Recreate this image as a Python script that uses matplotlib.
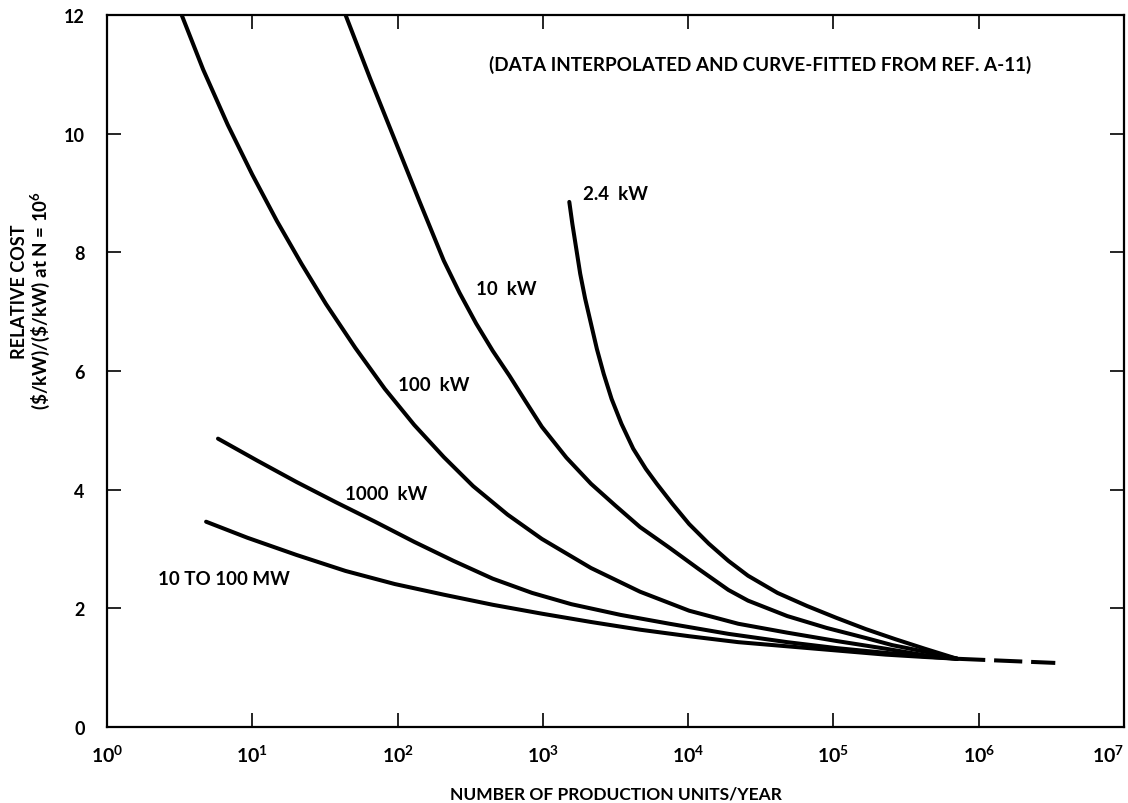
import math
import matplotlib
matplotlib.use("Agg")
import matplotlib.pyplot as plt
import numpy as np
from matplotlib.ticker import FixedLocator, FuncFormatter, NullLocator

plt.rcParams["font.family"] = ["Lato", "DejaVu Sans"]
plt.rcParams["font.weight"] = "bold"
plt.rcParams["mathtext.fontset"] = "custom"
plt.rcParams["mathtext.rm"] = "Lato:bold"
plt.rcParams["mathtext.it"] = "Lato:bold"
plt.rcParams["mathtext.bf"] = "Lato:bold"

# log10 of production rate N (units/year) and relative cost, per plant size
log_n_2_4kw = [3.182, 3.203, 3.230, 3.257, 3.291, 3.331, 3.372, 3.419, 3.473,
               3.541, 3.622, 3.709, 3.784, 3.892, 4.007, 4.142, 4.277, 4.412,
               4.615, 4.818, 5.020, 5.223, 5.426, 5.628, 5.851]
c_2_4kw = [8.85, 8.48, 8.06, 7.64, 7.22, 6.80, 6.37, 5.95, 5.53, 5.11, 4.69,
           4.35, 4.10, 3.76, 3.42, 3.09, 2.80, 2.55, 2.26, 2.04, 1.84, 1.65,
           1.48, 1.32, 1.15]

log_n_10kw = [1.642, 1.811, 1.980, 2.149, 2.318, 2.426, 2.541, 2.655, 2.770,
              2.878, 2.993, 3.162, 3.331, 3.500, 3.669, 3.872, 4.074, 4.277,
              4.412, 4.682, 4.953, 5.223, 5.405, 5.628, 5.851]
c_10kw = [12.0, 10.93, 9.90, 8.87, 7.86, 7.32, 6.80, 6.34, 5.92, 5.50, 5.06,
          4.54, 4.10, 3.73, 3.37, 3.02, 2.66, 2.31, 2.13, 1.87, 1.67, 1.50,
          1.38, 1.27, 1.15]

log_n_100kw = [0.514, 0.662, 0.831, 1.000, 1.169, 1.338, 1.507, 1.709, 1.912,
               2.115, 2.318, 2.520, 2.757, 2.993, 3.331, 3.669, 4.007, 4.345,
               4.682, 5.020, 5.358, 5.628, 5.851]
c_100kw = [12.0, 11.08, 10.15, 9.31, 8.53, 7.81, 7.13, 6.39, 5.70, 5.09, 4.55,
           4.06, 3.58, 3.17, 2.68, 2.28, 1.96, 1.74, 1.59, 1.45, 1.32, 1.21,
           1.15]

log_n_1000kw = [0.764, 1.034, 1.304, 1.574, 1.845, 2.115, 2.385, 2.655, 2.926,
                3.196, 3.534, 3.872, 4.277, 4.682, 5.020, 5.358, 5.628, 5.851]
c_1000kw = [4.86, 4.49, 4.13, 3.79, 3.46, 3.12, 2.80, 2.50, 2.26, 2.07, 1.89,
            1.74, 1.57, 1.43, 1.33, 1.25, 1.19, 1.15]

log_n_mw = [0.682, 0.966, 1.304, 1.642, 1.980, 2.318, 2.655, 2.993, 3.331,
            3.669, 4.007, 4.345, 4.682, 5.020, 5.358, 5.628, 5.851]
c_mw = [3.46, 3.19, 2.90, 2.63, 2.41, 2.23, 2.06, 1.91, 1.77, 1.64, 1.53,
        1.43, 1.36, 1.29, 1.22, 1.18, 1.15]

# Common extrapolated tail beyond N = 10^6
log_n_tail = [5.851, 6.527]
c_tail = [1.15, 1.08]

curve_names = ["2.4  kW", "10  kW", "100  kW", "1000  kW", "10 TO 100 MW"]

x_ticks = [1e0, 1e1, 1e2, 1e3, 1e4, 1e5, 1e6, 1e7]
y_ticks = [0, 2, 4, 6, 8, 10, 12]

W, H = 1128, 804
fig = plt.figure(figsize=(W / 100, H / 100), dpi=100)
ax = fig.add_axes([107 / W, (H - 728) / H, (1124 - 107) / W, (728 - 16) / H])

curves = [(log_n_2_4kw, c_2_4kw), (log_n_10kw, c_10kw),
          (log_n_100kw, c_100kw), (log_n_1000kw, c_1000kw),
          (log_n_mw, c_mw)]
for ln, c in curves:
    ax.plot(10 ** np.array(ln), c, color="black", lw=2.9,
            solid_capstyle="round", solid_joinstyle="round")
ax.plot(10 ** np.array(log_n_tail), c_tail, color="black", lw=2.9,
        linestyle=(0, (7, 2.2)))

ax.set_xscale("log")
ax.set_xlim(1, 1e7)
ax.set_ylim(0, 12)
ax.xaxis.set_major_locator(FixedLocator(x_ticks))
ax.xaxis.set_minor_locator(NullLocator())
ax.xaxis.set_major_formatter(
    FuncFormatter(lambda v, p: r"$\mathrm{10^{%d}}$" % round(math.log10(v))))
ax.yaxis.set_major_locator(FixedLocator(y_ticks))
ax.yaxis.set_major_formatter(FuncFormatter(lambda v, p: "%d" % v))

ax.tick_params(direction="in", length=10, width=1.2, top=True, right=True,
               labelsize=13)
ax.tick_params(axis="x", pad=12, labelsize=14)
ax.tick_params(axis="y", pad=16)
for s in ax.spines.values():
    s.set_linewidth(1.6)

# keep the last decade label inside the figure
ax.xaxis.get_major_ticks()[-1].label1.set_horizontalalignment("right")

# Curve labels (log10 N, relative cost)
label_pos = [(3.277, 8.99), (2.541, 7.39), (2.0, 5.78), (1.635, 3.93),
             (0.351, 2.50)]
for name, (lx, y) in zip(curve_names, label_pos):
    ax.text(10 ** lx, y, name, fontsize=13.5, ha="left", va="center")

fig.text(760 / W, 1 - 65 / H,
         "(DATA INTERPOLATED AND CURVE-FITTED FROM REF. A-11)",
         fontsize=13.6, ha="center", va="center")

fig.text(616 / W, 1 - 795 / H, "NUMBER OF PRODUCTION UNITS/YEAR",
         fontsize=12.5, ha="center", va="center")

fig.text(20 / W, 1 - 292 / H, "RELATIVE COST", rotation=90, fontsize=13,
         ha="center", va="center")
fig.text(40 / W, 1 - 300 / H, r"(\$/kW)/(\$/kW) at N = 10$^{6}$",
         rotation=90, fontsize=13.5, ha="center", va="center")

fig.savefig("out.png", dpi=100)
